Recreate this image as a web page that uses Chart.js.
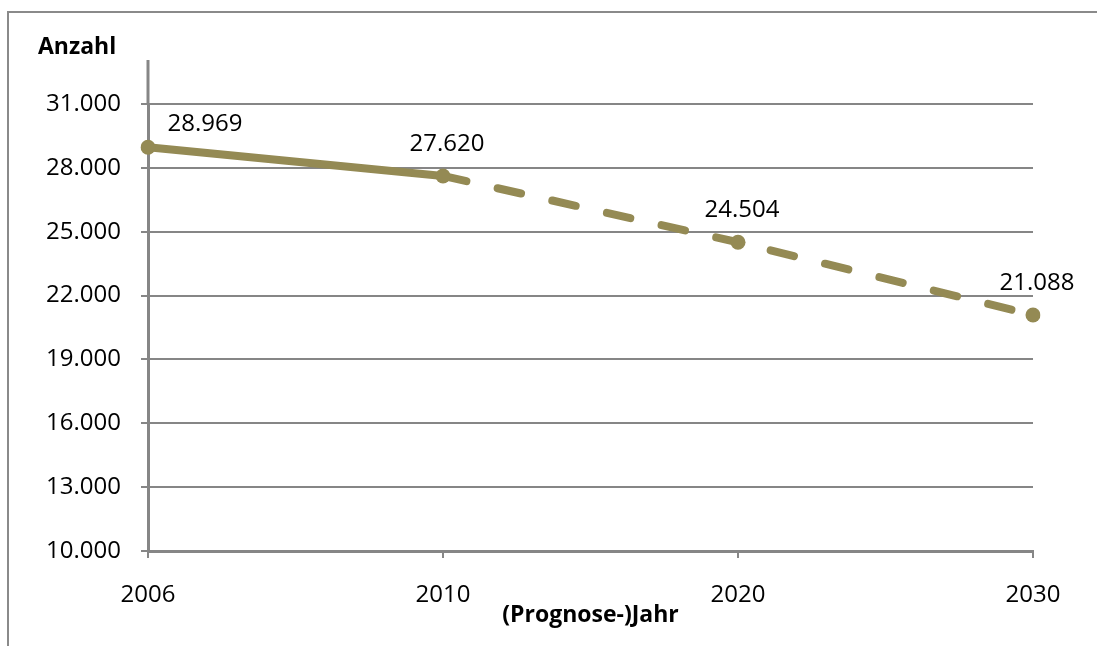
<!DOCTYPE html>
<html lang="de">
<head>
<meta charset="utf-8">
<title>Anzahl nach (Prognose-)Jahr</title>
<script src="https://cdn.jsdelivr.net/npm/chart.js@4.4.1/dist/chart.umd.min.js"></script>
<style>
    html, body { margin: 0; padding: 0; background: #fff; overflow: hidden; }
    #wrap { position: relative; width: 1097px; height: 646px; }
    #rahmen { position: absolute; left: 7px; top: 11px; width: 1200px; height: 700px;
              border-top: 2px solid #8a8a8a; border-left: 2px solid #8a8a8a; }
    canvas { position: absolute; left: 0; top: 0; }
</style>
</head>
<body>
<div id="wrap">
    <div id="rahmen"></div>
    <canvas id="grafik" width="1097" height="646"></canvas>
</div>
<script>
// Daten
const jahre = ['2006', '2010', '2020', '2030'];
const anzahl = [28969, 27620, 24504, 21088];
const letzterIstWert = 1; // ab 2010 nur noch Prognose (gestrichelt)
const yMin = 10000;
const yMax = 31000;
const ySchritt = 3000;

const olive = '#948a54';
const grau = '#868686';
const schrift = '"Open Sans", "DejaVu Sans", sans-serif';

function formatDE(wert) {
    return String(Math.round(wert)).replace(/\B(?=(\d{3})+(?!\d))/g, '.');
}

// Achsentitel "Anzahl", Verlängerung der y-Achse und Datenbeschriftungen
const beschriftung = {
    id: 'beschriftung',
    afterDraw(chart) {
        const ctx = chart.ctx;
        const area = chart.chartArea;
        ctx.save();

        ctx.strokeStyle = grau;
        ctx.lineWidth = 3;
        ctx.beginPath();
        ctx.moveTo(area.left, area.top - 44);
        ctx.lineTo(area.left, area.top);
        ctx.stroke();

        ctx.fillStyle = '#000';
        ctx.font = 'bold 23px ' + schrift;
        ctx.textAlign = 'left';
        ctx.textBaseline = 'middle';
        ctx.fillText('Anzahl', 38, area.top - 57);

        ctx.font = '24px ' + schrift;
        ctx.textAlign = 'center';
        const meta = chart.getDatasetMeta(0);
        meta.data.forEach((punkt, i) => {
            const text = formatDE(anzahl[i]);
            if (i === 0) {
                ctx.fillText(text, punkt.x + 57, punkt.y - 23);
            } else {
                ctx.fillText(text, punkt.x + 4, punkt.y - 32);
            }
        });
        ctx.restore();
    }
};

new Chart(document.getElementById('grafik'), {
    type: 'line',
    data: {
        labels: jahre,
        datasets: [{
            label: 'Anzahl',
            data: anzahl,
            borderColor: olive,
            backgroundColor: olive,
            borderWidth: 8,
            borderCapStyle: 'round',
            borderJoinStyle: 'round',
            pointRadius: 7.5,
            pointBorderWidth: 0,
            pointBackgroundColor: olive,
            tension: 0,
            segment: {
                borderDash: ctx => ctx.p0DataIndex >= letzterIstWert ? [24, 32] : undefined
            }
        }]
    },
    options: {
        responsive: false,
        animation: false,
        layout: { padding: { top: 104, right: 64, left: 0, bottom: 0 } },
        plugins: {
            legend: { display: false },
            tooltip: { enabled: false }
        },
        scales: {
            x: {
                offset: false,
                afterFit: scale => { scale.height = 95; },
                grid: { drawOnChartArea: false, drawTicks: true, tickLength: 7, color: grau, lineWidth: 2 },
                border: { color: grau, width: 3 },
                ticks: { color: '#000', padding: 23, maxRotation: 0, font: { family: schrift, size: 24 } },
                title: {
                    display: true,
                    text: '(Prognose-)Jahr',
                    color: '#000',
                    padding: { top: 0, bottom: 17 },
                    font: { family: schrift, size: 23, weight: 'bold' }
                }
            },
            y: {
                min: yMin,
                max: yMax,
                afterFit: scale => { scale.width = 148; },
                grid: { color: grau, lineWidth: 2, drawTicks: true, tickLength: 7 },
                border: { color: grau, width: 3 },
                ticks: {
                    stepSize: ySchritt,
                    color: '#000',
                    padding: 20,
                    font: { family: schrift, size: 24 },
                    callback: v => formatDE(v)
                }
            }
        }
    },
    plugins: [beschriftung]
});
</script>
</body>
</html>
